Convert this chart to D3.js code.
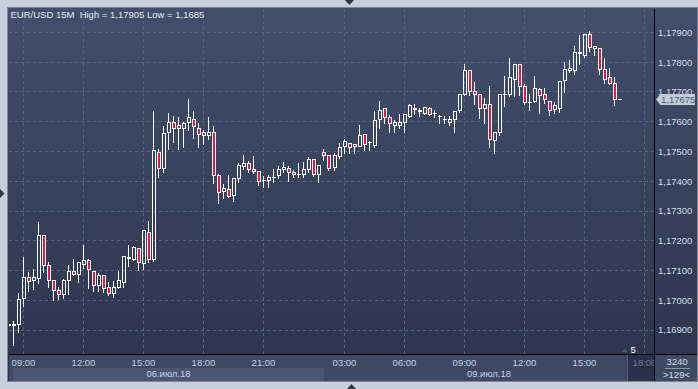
<!DOCTYPE html>
<html>
<head>
<meta charset="utf-8">
<script src="https://cdn.jsdelivr.net/npm/d3@7"></script>
<style>
  body { margin: 0; background: #c7cfdb; }
  svg { display: block; }
  text { font-family: "Liberation Sans", Arial, sans-serif; }
</style>
</head>
<body>
<div class="chart"></div>
<script>
// EUR/USD 15M candles, 06.07.18 08:15 .. 09.07.18 16:45
const opens = [1.16920, 1.16914, 1.16920, 1.17005, 1.17077, 1.17066, 1.17074, 1.17216, 1.17118, 1.17065,
  1.17034, 1.17020, 1.17067, 1.17098, 1.17087, 1.17120, 1.17134, 1.17097, 1.17050, 1.17084,
  1.17044, 1.17023, 1.17044, 1.17060, 1.17141, 1.17138, 1.17175, 1.17123, 1.17228, 1.17138,
  1.17498, 1.17442, 1.17565, 1.17598, 1.17586, 1.17578, 1.17598, 1.17608, 1.17578, 1.17565,
  1.17554, 1.17565, 1.17420, 1.17365, 1.17371, 1.17351, 1.17410, 1.17449, 1.17460, 1.17440,
  1.17434, 1.17401, 1.17402, 1.17412, 1.17419, 1.17440, 1.17444, 1.17430, 1.17422, 1.17422,
  1.17441, 1.17474, 1.17422, 1.17498, 1.17486, 1.17447, 1.17483, 1.17516, 1.17528, 1.17516,
  1.17518, 1.17556, 1.17529, 1.17520, 1.17608, 1.17645, 1.17615, 1.17589, 1.17588, 1.17597,
  1.17617, 1.17640, 1.17636, 1.17628, 1.17645, 1.17627, 1.17616, 1.17607, 1.17598, 1.17606,
  1.17637, 1.17692, 1.17771, 1.17703, 1.17692, 1.17643, 1.17659, 1.17538, 1.17563, 1.17691,
  1.17690, 1.17743, 1.17791, 1.17718, 1.17664, 1.17667, 1.17709, 1.17690, 1.17667, 1.17640,
  1.17645, 1.17737, 1.17780, 1.17771, 1.17831, 1.17822, 1.17892, 1.17845, 1.17845, 1.17774,
  1.17748, 1.17729, 1.17675];
const highs = [1.16922, 1.16930, 1.17023, 1.17144, 1.17096, 1.17104, 1.17262, 1.17217, 1.17130, 1.17068,
  1.17046, 1.17071, 1.17118, 1.17139, 1.17127, 1.17186, 1.17140, 1.17099, 1.17090, 1.17085,
  1.17061, 1.17066, 1.17098, 1.17147, 1.17186, 1.17181, 1.17176, 1.17237, 1.17266, 1.17636,
  1.17507, 1.17586, 1.17630, 1.17619, 1.17615, 1.17598, 1.17676, 1.17636, 1.17596, 1.17572,
  1.17615, 1.17586, 1.17424, 1.17390, 1.17421, 1.17411, 1.17462, 1.17487, 1.17468, 1.17485,
  1.17435, 1.17418, 1.17421, 1.17441, 1.17451, 1.17465, 1.17451, 1.17438, 1.17462, 1.17465,
  1.17483, 1.17475, 1.17455, 1.17507, 1.17487, 1.17496, 1.17528, 1.17541, 1.17529, 1.17525,
  1.17589, 1.17557, 1.17536, 1.17636, 1.17671, 1.17646, 1.17623, 1.17606, 1.17626, 1.17626,
  1.17660, 1.17660, 1.17645, 1.17651, 1.17651, 1.17640, 1.17623, 1.17618, 1.17618, 1.17635,
  1.17693, 1.17794, 1.17772, 1.17735, 1.17693, 1.17679, 1.17720, 1.17564, 1.17693, 1.17754,
  1.17815, 1.17792, 1.17792, 1.17726, 1.17692, 1.17754, 1.17712, 1.17712, 1.17668, 1.17667,
  1.17735, 1.17800, 1.17808, 1.17856, 1.17892, 1.17893, 1.17905, 1.17853, 1.17848, 1.17813,
  1.17780, 1.17749, 1.17675];
const lows = [1.16912, 1.16850, 1.16892, 1.16982, 1.17032, 1.17038, 1.17057, 1.17095, 1.17046, 1.17001,
  1.17003, 1.17009, 1.17021, 1.17085, 1.17061, 1.17107, 1.17042, 1.17030, 1.17031, 1.17029,
  1.17018, 1.17012, 1.17041, 1.17044, 1.17115, 1.17135, 1.17102, 1.17105, 1.17130, 1.17131,
  1.17413, 1.17431, 1.17507, 1.17533, 1.17507, 1.17514, 1.17572, 1.17546, 1.17516, 1.17526,
  1.17541, 1.17393, 1.17328, 1.17343, 1.17346, 1.17334, 1.17399, 1.17441, 1.17432, 1.17427,
  1.17388, 1.17382, 1.17382, 1.17399, 1.17410, 1.17431, 1.17402, 1.17413, 1.17413, 1.17413,
  1.17430, 1.17419, 1.17399, 1.17471, 1.17438, 1.17438, 1.17477, 1.17496, 1.17496, 1.17494,
  1.17517, 1.17505, 1.17505, 1.17516, 1.17578, 1.17595, 1.17567, 1.17567, 1.17578, 1.17567,
  1.17615, 1.17626, 1.17619, 1.17626, 1.17623, 1.17617, 1.17597, 1.17595, 1.17589, 1.17565,
  1.17634, 1.17690, 1.17690, 1.17659, 1.17612, 1.17595, 1.17516, 1.17496, 1.17555, 1.17654,
  1.17688, 1.17688, 1.17690, 1.17659, 1.17640, 1.17665, 1.17628, 1.17662, 1.17623, 1.17628,
  1.17634, 1.17700, 1.17767, 1.17760, 1.17793, 1.17819, 1.17839, 1.17824, 1.17760, 1.17729,
  1.17727, 1.17656, 1.17675];
const closes = [1.16914, 1.16920, 1.17003, 1.17078, 1.17064, 1.17076, 1.17216, 1.17116, 1.17065, 1.17034,
  1.17020, 1.17067, 1.17098, 1.17087, 1.17126, 1.17134, 1.17104, 1.17050, 1.17084, 1.17040,
  1.17023, 1.17044, 1.17065, 1.17146, 1.17144, 1.17178, 1.17128, 1.17236, 1.17138, 1.17505,
  1.17442, 1.17559, 1.17598, 1.17578, 1.17578, 1.17595, 1.17615, 1.17583, 1.17558, 1.17555,
  1.17565, 1.17420, 1.17363, 1.17375, 1.17350, 1.17410, 1.17454, 1.17460, 1.17440, 1.17434,
  1.17399, 1.17403, 1.17411, 1.17414, 1.17441, 1.17445, 1.17430, 1.17422, 1.17424, 1.17440,
  1.17474, 1.17422, 1.17454, 1.17487, 1.17444, 1.17486, 1.17514, 1.17535, 1.17514, 1.17524,
  1.17554, 1.17523, 1.17530, 1.17605, 1.17638, 1.17615, 1.17595, 1.17597, 1.17597, 1.17625,
  1.17655, 1.17645, 1.17638, 1.17647, 1.17626, 1.17629, 1.17618, 1.17609, 1.17608, 1.17634,
  1.17692, 1.17771, 1.17703, 1.17692, 1.17645, 1.17659, 1.17539, 1.17563, 1.17692, 1.17693,
  1.17750, 1.17791, 1.17720, 1.17665, 1.17666, 1.17712, 1.17688, 1.17675, 1.17637, 1.17656,
  1.17734, 1.17774, 1.17771, 1.17833, 1.17833, 1.17892, 1.17850, 1.17852, 1.17774, 1.17743,
  1.17729, 1.17675, 1.17675];

const priceTicks = [1.169, 1.170, 1.171, 1.172, 1.173, 1.174, 1.175, 1.176, 1.177, 1.178, 1.179];
const timeLabels = ["09:00", "12:00", "15:00", "18:00", "21:00", "03:00", "06:00", "09:00", "12:00", "15:00", "18:00"];
const timeSlots = [3, 15, 27, 39, 51, 67, 79, 91, 103, 115, 127];
const dayLabels = ["06.июл.18", "09.июл.18"];
const dayStarts = [0, 63];
const symbol = "EUR/USD", period = "15M";
const lastPrice = 1.17675;
const barsShown = 3240, barsOnScreen = 129, zoomLevel = 5;

const W = 698, H = 389;
const plot = { left: 9, top: 9, right: 654, bottom: 354 };
const fs = 9.5;

const fmt = v => d3.format(".5f")(v).replace(".", ",");
const fmtShort = v => d3.format(".4f")(v).replace(".", ",");

const x = d3.scaleLinear().domain([3, 127]).range([23.5, 644.5]);
const y = d3.scaleLinear().domain([1.169, 1.179]).range([330, 32.5]);
const px = i => Math.round(x(i) - 0.5) + 0.5;
const py = v => Math.round(y(v) - 0.5) + 0.5;

const svg = d3.select(".chart").append("svg").attr("width", W).attr("height", H);
const defs = svg.append("defs");
const grad = defs.append("linearGradient").attr("id", "bg")
  .attr("x1", 0).attr("y1", 0).attr("x2", 0).attr("y2", 1);
grad.append("stop").attr("offset", "0%").attr("stop-color", "#424e6b");
grad.append("stop").attr("offset", "100%").attr("stop-color", "#2b344c");
defs.append("clipPath").attr("id", "plotClip").append("rect")
  .attr("x", plot.left).attr("y", plot.top)
  .attr("width", plot.right - plot.left).attr("height", plot.bottom - plot.top);
defs.append("clipPath").attr("id", "axisClip").append("rect")
  .attr("x", plot.left).attr("y", plot.bottom)
  .attr("width", plot.right - plot.left).attr("height", 27);

// outer arrows
svg.append("polygon").attr("points", "345,0 354,0 349.5,5").attr("fill", "#2f3746");
svg.append("polygon").attr("points", "347,389 356,389 351.5,384").attr("fill", "#2f3746");
svg.append("polygon").attr("points", "0,189 0,198 4.5,193.5").attr("fill", "#2f3746");

// panel
svg.append("rect").attr("x", 7.5).attr("y", 7.5).attr("width", 690).attr("height", 374)
  .attr("fill", "url(#bg)").attr("stroke", "#7d8798");

// time axis strip
svg.append("rect").attr("x", plot.left).attr("y", plot.bottom).attr("width", 688).attr("height", 27)
  .attr("fill", "#3e4963");
svg.append("rect").attr("x", 13).attr("y", 368).attr("width", x(dayStarts[1]) - 13).attr("height", 13)
  .attr("fill", "#4b5772");
svg.append("rect").attr("x", 627).attr("y", plot.bottom).attr("width", plot.right - 627).attr("height", 27)
  .attr("fill", "#29314a");
svg.append("line").attr("x1", 627.5).attr("x2", 627.5).attr("y1", plot.bottom).attr("y2", 381)
  .attr("stroke", "#56617a");

// grid
const grid = svg.append("g").attr("stroke", "#56637f").attr("stroke-dasharray", "3,3");
grid.selectAll("line.h").data(priceTicks).enter().append("line")
  .attr("x1", plot.left).attr("x2", plot.right)
  .attr("y1", d => py(d)).attr("y2", d => py(d));
grid.selectAll("line.v").data(timeSlots).enter().append("line")
  .attr("x1", d => px(d)).attr("x2", d => px(d))
  .attr("y1", plot.top).attr("y2", plot.bottom);

// candles
const bars = opens.map((o, i) => ({ i, o, h: highs[i], l: lows[i], c: closes[i] }));
const cg = svg.append("g").attr("clip-path", "url(#plotClip)").attr("shape-rendering", "crispEdges");
bars.forEach(d => {
  const cx = px(d.i);
  const top = py(Math.max(d.o, d.c));
  const bot = py(Math.min(d.o, d.c));
  const bear = d.c < d.o;
  cg.append("line").attr("x1", cx).attr("x2", cx)
    .attr("y1", Math.round(y(d.h))).attr("y2", top).attr("stroke", "#fff");
  cg.append("line").attr("x1", cx).attr("x2", cx)
    .attr("y1", bot).attr("y2", Math.round(y(d.l)) + 1).attr("stroke", "#fff");
  if (bot - top < 1) {
    cg.append("line").attr("x1", cx - 1.5).attr("x2", cx + 2.5)
      .attr("y1", top).attr("y2", top).attr("stroke", "#fff");
  } else {
    cg.append("rect").attr("x", cx - 1).attr("y", top).attr("width", 3).attr("height", bot - top)
      .attr("fill", bear ? "#e3173f" : "none").attr("stroke", "#fff");
  }
});

// frame lines
svg.append("line").attr("x1", plot.right + 0.5).attr("x2", plot.right + 0.5)
  .attr("y1", plot.top).attr("y2", 381).attr("stroke", "#000");
svg.append("line").attr("x1", plot.left).attr("x2", 697)
  .attr("y1", plot.bottom + 0.5).attr("y2", plot.bottom + 0.5).attr("stroke", "#000");

// price axis labels (the one under the last-price tag stays, partly covered, as in the source)
svg.append("g").selectAll("text").data(priceTicks).enter().append("text")
  .attr("x", 658).attr("y", d => y(d) + 3.4)
  .attr("font-size", fs).attr("fill", "#d6dde9")
  .text(d => fmt(d));

// last price tag
const ly = py(lastPrice);
svg.append("polygon")
  .attr("points", `656,${ly} 660.5,${ly - 5.5} 695,${ly - 5.5} 695,${ly + 5.5} 660.5,${ly + 5.5}`)
  .attr("fill", "#c6cbd4");
svg.append("text").attr("x", 661).attr("y", ly + 3.4)
  .attr("font-size", fs).attr("fill", "#3f5b86").text(fmt(lastPrice));

// time labels
svg.append("g").attr("clip-path", "url(#axisClip)").selectAll("text").data(timeSlots).enter().append("text")
  .attr("x", d => px(d)).attr("y", 365.5).attr("text-anchor", "middle")
  .attr("font-size", fs).attr("fill", d => px(d) > 627 ? "#6e7a91" : "#c6d0e2")
  .text((d, i) => timeLabels[i]);

// day labels
const dayEnds = [x(dayStarts[1]), plot.right];
svg.append("g").selectAll("text").data(dayLabels).enter().append("text")
  .attr("x", (d, i) => i === 0 ? (13 + dayEnds[0]) / 2 : (dayEnds[0] + dayEnds[1]) / 2)
  .attr("y", 376.8).attr("text-anchor", "middle")
  .attr("font-size", fs).attr("fill", "#c6d0e2")
  .text(d => d);

// zoom marker
svg.append("polygon").attr("points", "622,352 628,352 625,348.5").attr("fill", "#4d566a");
svg.append("text").attr("x", 630.5).attr("y", 353).attr("font-size", fs).attr("fill", "#fff").text(zoomLevel);

// bar counters
svg.append("text").attr("x", 677).attr("y", 365).attr("text-anchor", "middle")
  .attr("font-size", fs).attr("fill", "#d6dde9").text(barsShown);
svg.append("line").attr("x1", 665).attr("x2", 690).attr("y1", 368.5).attr("y2", 368.5).attr("stroke", "#8a94a8");
svg.append("text").attr("x", 676.5).attr("y", 377.5).attr("text-anchor", "middle")
  .attr("font-size", fs).attr("fill", "#d6dde9").text(">" + barsOnScreen + "<");

// title
svg.append("text").attr("x", 10.5).attr("y", 17.7).attr("font-size", fs).attr("fill", "#e4e9f2")
  .attr("xml:space", "preserve").style("white-space", "pre")
  .text(`${symbol} ${period}  High = ${fmt(d3.max(highs))} Low = ${fmtShort(d3.min(lows))}`);
</script>
</body>
</html>
